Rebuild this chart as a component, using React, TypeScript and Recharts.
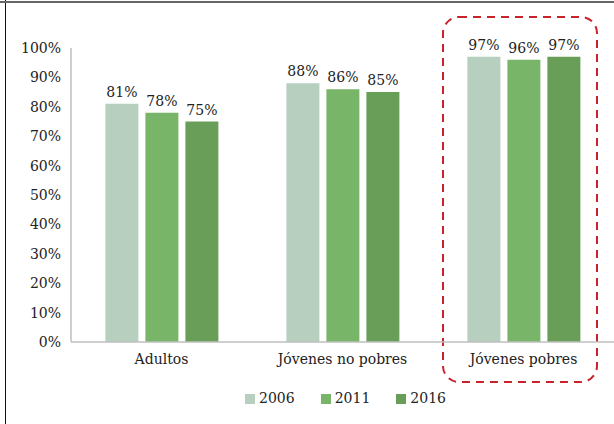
import { BarChart, Bar, XAxis, YAxis, Legend, LabelList, Customized } from 'recharts';

const categories = ['Adultos', 'Jóvenes no pobres', 'Jóvenes pobres'];
const values2006 = [81, 88, 97];
const values2011 = [78, 86, 96];
const values2016 = [75, 85, 97];
const yTicks = [0, 10, 20, 30, 40, 50, 60, 70, 80, 90, 100];

const data = categories.map((name, i) => ({
  name,
  y2006: values2006[i],
  y2011: values2011[i],
  y2016: values2016[i],
}));

const FONT = "'DejaVu Serif', 'Liberation Serif', serif";

// red dashed highlight around the last group
const Highlight = () => (
  <rect
    x={443}
    y={17}
    width={154}
    height={365}
    rx={16}
    ry={16}
    fill="none"
    stroke="#c8232c"
    strokeWidth={2}
    strokeDasharray="8 6"
  />
);

export default function App() {
  const labelStyle = { fontFamily: FONT, fontSize: 14, fill: '#222' };
  const tickStyle = { fontFamily: FONT, fontSize: 14, fill: '#222' };
  return (
    <div style={{ position: 'absolute', left: 0, top: 0, width: 614, height: 424, background: '#fff', fontFamily: FONT }}>
      <div style={{ position: 'absolute', left: 5, top: 0, width: 1, height: 424, background: '#111' }} />
      <div style={{ position: 'absolute', left: 0, top: 1, width: 614, height: 2, background: '#666' }} />
      <BarChart
        width={614}
        height={424}
        data={data}
        style={{ fontFamily: FONT }}
        margin={{ top: 48, right: 0, bottom: 36, left: 0 }}
        barCategoryGap="19%"
        barGap={7}
      >
        <XAxis
          dataKey="name"
          axisLine={{ stroke: '#bfbfbf', strokeWidth: 1.5 }}
          tickLine={false}
          tick={{ ...tickStyle, style: tickStyle } as any}
          tickMargin={6}
        />
        <YAxis
          width={71}
          domain={[0, 100]}
          ticks={yTicks}
          interval={0}
          tickFormatter={(v) => `${v}%`}
          axisLine={{ stroke: '#bfbfbf', strokeWidth: 1.5 }}
          tickLine={false}
          tickMargin={4}
          tick={{ ...tickStyle, style: tickStyle } as any}
        />
        <Legend
          verticalAlign="bottom"
          iconType="square"
          iconSize={10}
          wrapperStyle={{ top: 390, left: 87, width: 543, fontFamily: FONT, fontSize: 14 }}
          formatter={(v) => <span style={{ color: '#222', marginRight: 16 }}>{v}</span>}
        />
        <Bar dataKey="y2006" name="2006" fill="#b6cfbe" isAnimationActive={false}>
          <LabelList dataKey="y2006" position="top" offset={7} formatter={(v: any) => `${v}%`} style={labelStyle} />
        </Bar>
        <Bar dataKey="y2011" name="2011" fill="#79b569" isAnimationActive={false}>
          <LabelList dataKey="y2011" position="top" offset={7} formatter={(v: any) => `${v}%`} style={labelStyle} />
        </Bar>
        <Bar dataKey="y2016" name="2016" fill="#699e59" isAnimationActive={false}>
          <LabelList dataKey="y2016" position="top" offset={7} formatter={(v: any) => `${v}%`} style={labelStyle} />
        </Bar>
        <Customized component={Highlight} />
      </BarChart>
    </div>
  );
}
